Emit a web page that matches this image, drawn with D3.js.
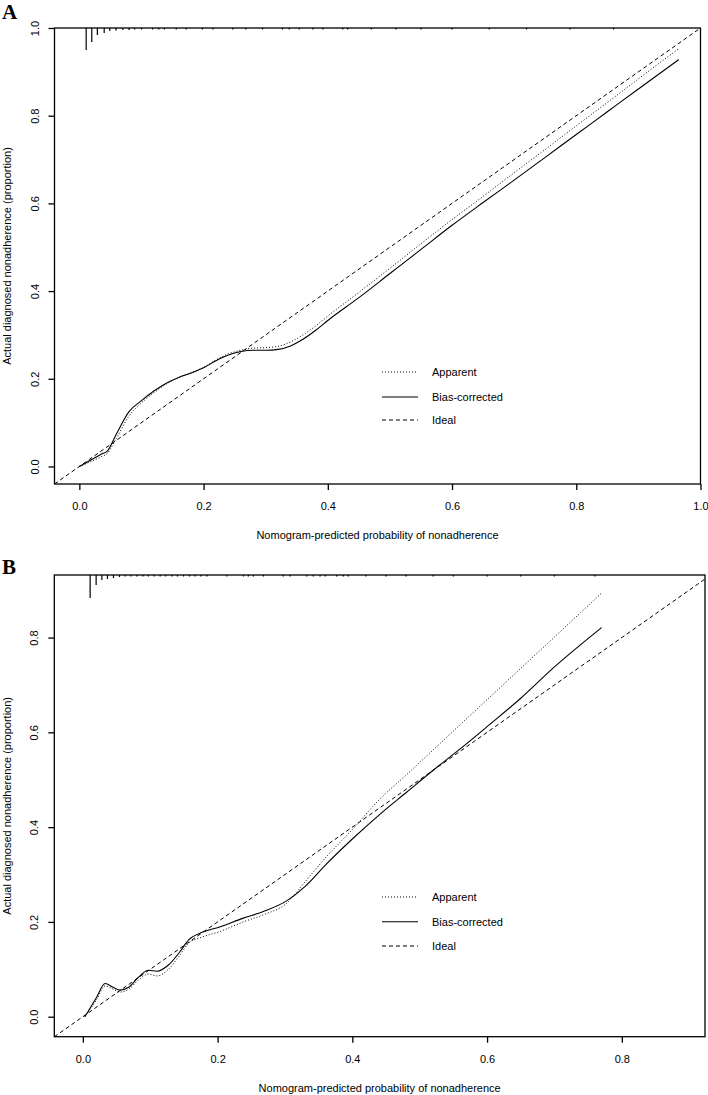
<!DOCTYPE html>
<html><head><meta charset="utf-8">
<script src="https://cdn.jsdelivr.net/npm/d3@7"></script>
<style>
body{margin:0;background:#fff}
svg{display:block}
text{font-family:"Liberation Sans",Arial,Helvetica,sans-serif;fill:#000}
</style></head><body>
<script>
// ---------- DATA ----------
const xLabel = "Nomogram-predicted probability of nonadherence";
const yLabel = "Actual diagnosed nonadherence (proportion)";
const legendLabels = ["Apparent", "Bias-corrected", "Ideal"];

// Panel A
const ticksA = [0, 0.2, 0.4, 0.6, 0.8, 1.0];
const predA = [0.0, 0.02, 0.035, 0.045, 0.06, 0.08, 0.1, 0.12, 0.14, 0.16, 0.18, 0.2, 0.22, 0.24, 0.26, 0.28, 0.3, 0.32, 0.34, 0.36, 0.38, 0.4, 0.45, 0.5, 0.55, 0.6, 0.65, 0.7, 0.75, 0.8, 0.85, 0.9, 0.965];
const biasA = [0.0, 0.016, 0.028, 0.035, 0.075, 0.125, 0.15, 0.172, 0.19, 0.203, 0.213, 0.225, 0.241, 0.254, 0.262, 0.265, 0.265, 0.267, 0.275, 0.29, 0.31, 0.333, 0.385, 0.44, 0.495, 0.55, 0.602, 0.653, 0.705, 0.757, 0.809, 0.861, 0.928];
const apparentA = [0.0, 0.012, 0.022, 0.03, 0.065, 0.115, 0.145, 0.168, 0.188, 0.203, 0.214, 0.226, 0.243, 0.257, 0.265, 0.27, 0.271, 0.274, 0.284, 0.3, 0.32, 0.343, 0.397, 0.452, 0.508, 0.563, 0.616, 0.67, 0.723, 0.777, 0.83, 0.884, 0.953];
const rugXA = [0.011,0.020,0.029,0.040,0.049,0.059,0.070,0.080,0.089,0.100,0.118,0.128,0.137,0.156,0.172,0.198,0.215,0.247,0.268,0.295,0.327,0.338,0.354,0.376,0.392,0.424,0.432,0.47,0.51,0.55,0.6,0.66,0.72,0.79,0.86];
const rugNA = [22,14,7,5,3,2.5,2,2,1.5,1.5,1.5,1.5,1.5,1.5,1.5,1.5,1.5,1.5,1.5,1.5,1.5,1.5,1.5,1.5,1.5,1.5,1.5,1.5,1.5,1.5,1.5,1.5,1.5,1.5,1.5];

// Panel B
const ticksB = [0, 0.2, 0.4, 0.6, 0.8];
const predB = [0.003, 0.02, 0.033, 0.045, 0.055, 0.068, 0.083, 0.097, 0.11, 0.127, 0.144, 0.157, 0.177, 0.204, 0.238, 0.268, 0.303, 0.33, 0.36, 0.4, 0.44, 0.48, 0.52, 0.56, 0.6, 0.65, 0.7, 0.77];
const biasB = [0.0, 0.04, 0.07, 0.062, 0.056, 0.062, 0.084, 0.098, 0.096, 0.109, 0.137, 0.162, 0.178, 0.19, 0.208, 0.222, 0.245, 0.275, 0.32, 0.375, 0.426, 0.473, 0.52, 0.565, 0.612, 0.672, 0.738, 0.821];
const apparentB = [0.0, 0.035, 0.065, 0.058, 0.052, 0.058, 0.078, 0.09, 0.086, 0.1, 0.13, 0.155, 0.168, 0.18, 0.2, 0.215, 0.24, 0.285, 0.335, 0.395, 0.458, 0.51, 0.563, 0.616, 0.669, 0.735, 0.801, 0.894];
const rugXB = [0.0108,0.0197,0.0282,0.0365,0.0454,0.0543,0.0628,0.0712,0.0801,0.089,0.0973,0.1058,0.1147,0.1231,0.132,0.1404,0.1493,0.1582,0.1666,0.1751,0.184,0.2136,0.2383,0.2457,0.2531,0.268,0.2976,0.3076,0.3323,0.3421,0.3521,0.3595,0.3769,0.3866,0.3941,0.42,0.45,0.48,0.52,0.55,0.6,0.65,0.7,0.76];
const rugNB = [23,10,5,4,3,2,1.5,1.5,1.5,1.5,1.5,1.5,1.5,1.5,1.5,1.5,1.5,1.5,1.5,1.5,1.5,1.5,1.5,1.5,1.5,1.5,1.5,1.5,1.5,1.5,1.5,1.5,1.5,1.5,1.5,1.5,1.5,1.5,1.5,1.5,1.5,1.5,1.5,1.5];

// ---------- DRAWING ----------
const svg = d3.select("body").append("svg").attr("width", 708).attr("height", 1095);
const fmt = d3.format(".1f");

function panel(o) {
  const x = d3.scaleLinear().domain(o.xdom).range([o.left, o.right]);
  const y = d3.scaleLinear().domain(o.ydom).range([o.bottom, o.top]);
  const g = svg.append("g");

  g.append("text").attr("x", 2).attr("y", o.letterY).text(o.letter)
    .style("font-family", '"Liberation Serif","Times New Roman",serif')
    .style("font-weight", "bold").style("font-size", "21px");

  const cid = "clip" + o.letter;
  svg.append("clipPath").attr("id", cid).append("rect")
    .attr("x", o.left).attr("y", o.top).attr("width", o.right - o.left).attr("height", o.bottom - o.top);

  const xa = g.append("g").attr("transform", `translate(0,${o.bottom})`)
    .call(d3.axisBottom(x).tickValues(o.ticks).tickFormat(fmt).tickSize(6).tickSizeOuter(0));
  const ya = g.append("g").attr("transform", `translate(${o.left},0)`)
    .call(d3.axisLeft(y).tickValues(o.ticks).tickFormat(fmt).tickSize(6).tickSizeOuter(0));
  [xa, ya].forEach(a => {
    a.select(".domain").remove();
    a.selectAll("line").attr("stroke", "#000").attr("stroke-width", 1.3);
    a.selectAll("text").style("font-size", "11px").style("font-family", '"Liberation Sans",Arial,sans-serif');
  });
  xa.selectAll("text").attr("y", 0).attr("dy", null).attr("transform", "translate(0,26)");
  ya.selectAll("text").attr("x", null).attr("dy", null)
    .attr("transform", "translate(-16,0) rotate(-90)").attr("text-anchor", "middle").attr("y", 0);

  g.append("rect").attr("x", o.left).attr("y", o.top).attr("width", o.right - o.left).attr("height", o.bottom - o.top)
    .attr("fill", "none").attr("stroke", "#000").attr("stroke-width", 1.3);

  g.append("text").attr("x", (o.left + o.right) / 2).attr("y", o.bottom + 55)
    .attr("text-anchor", "middle").style("font-size", "11px").text(xLabel);
  g.append("text").attr("transform", `translate(11,${(o.top + o.bottom) / 2}) rotate(-90)`)
    .attr("text-anchor", "middle").style("font-size", "11px").text(yLabel);

  const cg = g.append("g").attr("clip-path", `url(#${cid})`);
  cg.append("line")
    .attr("x1", x(o.xdom[0])).attr("y1", y(o.xdom[0]))
    .attr("x2", x(1.2)).attr("y2", y(1.2))
    .attr("stroke", "#000").attr("stroke-width", 1).attr("stroke-dasharray", "4,3");

  const line = d3.line().x(d => x(d[0])).y(d => y(d[1])).curve(d3.curveMonotoneX);
  cg.append("path").attr("d", line(o.pred.map((p, i) => [p, o.app[i]])))
    .attr("fill", "none").attr("stroke", "#000").attr("stroke-width", 1).attr("stroke-dasharray", "1,2");
  cg.append("path").attr("d", line(o.pred.map((p, i) => [p, o.bias[i]])))
    .attr("fill", "none").attr("stroke", "#000").attr("stroke-width", 1.1);

  const h = d3.scaleLinear().domain([0, 23]).range([0, 23]);
  g.append("g").selectAll("line").data(o.rugX).join("line")
    .attr("x1", d => x(d)).attr("x2", d => x(d))
    .attr("y1", o.top).attr("y2", (d, i) => o.top + h(o.rugN[i]))
    .attr("stroke", "#000").attr("stroke-width", 1.2);

  const styles = [
    { dash: "1,2", w: 1 },
    { dash: null, w: 1.1 },
    { dash: "4,3", w: 1 }
  ];
  legendLabels.forEach((lab, i) => {
    const yy = o.legendY[i];
    g.append("line").attr("x1", 382).attr("x2", 418).attr("y1", yy).attr("y2", yy)
      .attr("stroke", "#000").attr("stroke-width", styles[i].w)
      .attr("stroke-dasharray", styles[i].dash);
    g.append("text").attr("x", 432).attr("y", yy + 4).style("font-size", "11px").text(lab);
  });
}

panel({
  letter: "A", letterY: 19,
  left: 54.5, right: 700.5, top: 28, bottom: 484,
  xdom: [-0.04, 1.0], ydom: [-0.04, 1.0], ticks: ticksA,
  pred: predA, app: apparentA, bias: biasA, rugX: rugXA, rugN: rugNA,
  legendY: [372, 397, 420]
});

panel({
  letter: "B", letterY: 574,
  left: 54.3, right: 705, top: 575, bottom: 1036.7,
  xdom: [-0.0424, 0.9235], ydom: [-0.0422, 0.932], ticks: ticksB,
  pred: predB, app: apparentB, bias: biasB, rugX: rugXB, rugN: rugNB,
  legendY: [897, 921.7, 946]
});
</script>
</body></html>
